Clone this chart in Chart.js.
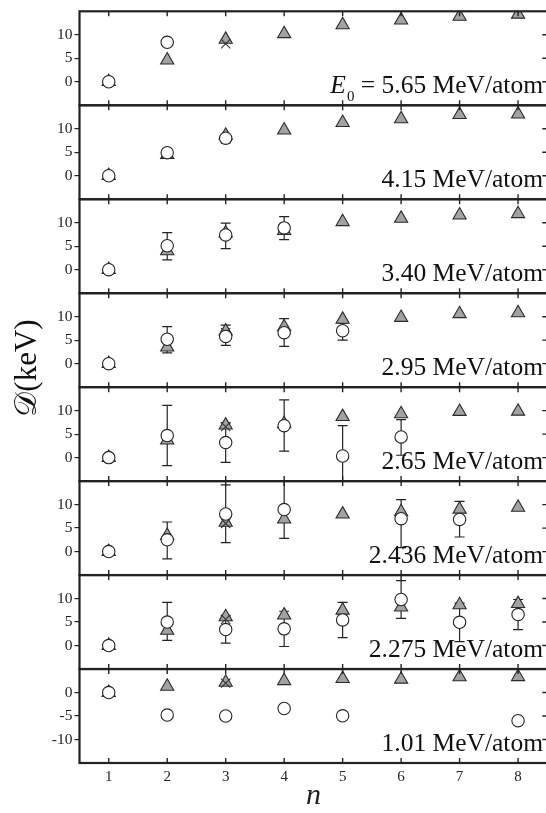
<!DOCTYPE html>
<html lang="en">
<head>
<meta charset="UTF-8">
<title>D(keV) vs n</title>
<script src="https://cdn.jsdelivr.net/npm/chart.js"></script>
<style>
  html, body { margin: 0; padding: 0; background: #fff; overflow: hidden; }
  #wrap { width: 546px; height: 813px; overflow: hidden; }
  canvas { display: block; }
</style>
</head>
<body>
<div id="wrap"><canvas id="panels" width="556" height="813"></canvas></div>
<script>
// one panel per beam energy, top to bottom
const nValues = [1, 2, 3, 4, 5, 6, 7, 8];
const energies = ['5.65', '4.15', '3.40', '2.95', '2.65', '2.436', '2.275', '1.01'];
const yTicksUpper = [0, 5, 10];
const yTicksLower = [-10, -5, 0];

// grey triangles
const triangleVals = [
  [0, 4.6, 9.0, 10.2, 12.1, 13.1, 13.9, 14.35],
  [0, 4.5, 8.6, 9.7, 11.3, 12.1, 13.0, 13.1],
  [0, 4.0, 7.8, 8.3, 10.2, 10.9, 11.6, 11.9],
  [0, 3.5, 6.9, 7.8, 9.4, 9.8, 10.6, 10.8],
  [0, 3.7, 6.9, 7.2, 8.7, 9.3, 9.8, 9.85],
  [0, 3.4, 6.2, 6.9, 7.95, 8.45, 9.0, 9.4],
  [0, 3.2, 6.1, 6.45, 7.5, 8.15, 8.65, 8.9],
  [0, 1.3, 2.15, 2.5, 2.95, 2.8, 3.3, 3.35]
];
// open circles (measured)
const circleVals = [
  [0, 8.4, null, null, null, null, null, null],
  [0, 4.9, 8.0, null, null, null, null, null],
  [0, 5.1, 7.4, 8.9, null, null, null, null],
  [0, 5.2, 5.8, 6.6, 7.0, null, null, null],
  [0, 4.7, 3.2, 6.8, 0.35, 4.4, null, null],
  [0, 2.5, 8.0, 8.95, null, 7.0, 6.85, null],
  [0, 5.0, 3.4, 3.55, 5.45, 9.8, 4.95, 6.6],
  [0, -4.8, -5.0, -3.4, -4.95, null, null, -6.0]
];
// crosses, only at n = 3
const crossVals = [8.1, 7.8, 7.4, 6.6, 6.6, 6.0, 5.6, 2.0];
// error bar ends for the circles
const errLow = [
  [null, null, null, null, null, null, null, null],
  [null, null, null, null, null, null, null, null],
  [null, 2.1, 4.5, 6.4, null, null, null, null],
  [null, 2.3, 3.9, 3.7, 5.0, null, null, null],
  [null, -1.7, -1.0, 1.4, -6.1, 0.5, null, null],
  [null, -1.55, 1.9, 2.8, null, 0.85, 3.1, null],
  [null, 1.1, 0.5, -0.2, 1.7, 5.8, 0.85, 3.4],
  [null, null, null, null, null, null, null, null]
];
const errHigh = [
  [null, null, null, null, null, null, null, null],
  [null, null, null, null, null, null, null, null],
  [null, 7.9, 9.9, 11.3, null, null, null, null],
  [null, 7.9, 8.2, 9.6, 8.6, null, null, null],
  [null, 11.1, 7.4, 12.3, 6.8, 8.1, null, null],
  [null, 6.3, 14.2, 15.1, null, 11.05, 10.7, null],
  [null, 9.2, 6.3, 7.3, 9.2, 13.8, 9.05, 9.8],
  [null, null, null, null, null, null, null, null]
];

const serif = '"Liberation Serif", "Times New Roman", serif';
const ink = '#222';

function points(vals) {
  return nValues.map((n, i) => ({ x: n, y: vals[i] })).filter(p => p.y !== null);
}

const datasets = [];
const scales = {
  x: {
    type: 'linear',
    position: 'bottom',
    min: 0.5,
    max: 8.5,
    afterBuildTicks: s => { s.ticks = nValues.map(v => ({ value: v })); },
    afterFit: s => { s.height = 50; },
    grid: { display: false, drawTicks: false },
    border: { display: false },
    ticks: { font: { family: serif, size: 15 }, color: ink, padding: 5 },
    title: { display: true, text: 'n', font: { family: serif, size: 30, style: 'italic', lineHeight: 1.1 }, color: ink, padding: { top: 0, bottom: 0 } }
  }
};

energies.forEach((e, p) => {
  const id = 'y' + p;
  const last = p === energies.length - 1;
  scales[id] = {
    type: 'linear',
    position: 'left',
    stack: 'panels',
    stackWeight: 1,
    weight: energies.length - p,
    min: last ? -15 : -5,
    max: last ? 5 : 15,
    afterBuildTicks: s => { s.ticks = (last ? yTicksLower : yTicksUpper).map(v => ({ value: v })); },
    afterFit: s => { s.width = 79.5; },
    grid: { drawOnChartArea: false, tickLength: 5, color: ink, lineWidth: 1.2 },
    border: { display: false },
    ticks: { font: { family: serif, size: 15.5 }, color: ink, padding: 2 }
  };
  datasets.push({
    label: 'circles ' + e, yAxisID: id, order: 1,
    data: points(circleVals[p]),
    pointStyle: 'circle', pointRadius: 6.2, pointBackgroundColor: '#fff',
    pointBorderColor: ink, pointBorderWidth: 1.1
  });
  datasets.push({
    label: 'crosses ' + e, yAxisID: id, order: 2,
    data: [{ x: 3, y: crossVals[p] }],
    pointStyle: 'crossRot', pointRadius: 6.5, pointBorderColor: '#333', pointBorderWidth: 1.1
  });
  datasets.push({
    label: 'triangles ' + e, yAxisID: id, order: 3,
    data: points(triangleVals[p]),
    pointStyle: 'triangle', pointRadius: 7.6, pointBackgroundColor: '#a2a2a2',
    pointBorderColor: '#2a2a2a', pointBorderWidth: 1.1
  });
});

const panelPlugin = {
  id: 'panelFrames',
  beforeDatasetsDraw(chart) {
    const ctx = chart.ctx, xs = chart.scales.x, area = chart.chartArea;
    ctx.save();
    ctx.strokeStyle = ink;
    ctx.lineWidth = 1.2;
    energies.forEach((e, p) => {
      const ys = chart.scales['y' + p];
      ctx.save();
      ctx.beginPath();
      ctx.rect(area.left, ys.top, area.right - area.left, ys.bottom - ys.top);
      ctx.clip();
      nValues.forEach((n, i) => {
        const lo = errLow[p][i], hi = errHigh[p][i];
        if (lo === null) return;
        const px = xs.getPixelForValue(n);
        const y1 = ys.getPixelForValue(lo), y2 = ys.getPixelForValue(hi);
        ctx.beginPath();
        ctx.moveTo(px, y1); ctx.lineTo(px, y2);
        ctx.moveTo(px - 5, y1); ctx.lineTo(px + 5, y1);
        ctx.moveTo(px - 5, y2); ctx.lineTo(px + 5, y2);
        ctx.stroke();
      });
      ctx.restore();
    });
    ctx.restore();
  },
  afterDatasetsDraw(chart) {
    const ctx = chart.ctx, xs = chart.scales.x, area = chart.chartArea;
    ctx.save();
    ctx.strokeStyle = ink;
    energies.forEach((e, p) => {
      const ys = chart.scales['y' + p];
      const last = p === energies.length - 1;
      // x ticks pointing into the panel from top and bottom
      ctx.lineWidth = 1.4;
      ctx.beginPath();
      nValues.forEach(n => {
        const px = xs.getPixelForValue(n);
        ctx.moveTo(px, ys.top); ctx.lineTo(px, ys.top + 5);
        ctx.moveTo(px, ys.bottom); ctx.lineTo(px, ys.bottom - 5);
      });
      // y ticks on the right edge
      (last ? yTicksLower : yTicksUpper).forEach(v => {
        const py = ys.getPixelForValue(v);
        ctx.moveTo(area.right, py); ctx.lineTo(area.right - 5, py);
      });
      ctx.stroke();
      ctx.lineWidth = 2.2;
      ctx.strokeRect(area.left, ys.top, area.right - area.left, ys.bottom - ys.top);
    });
    ctx.restore();
  },
  afterDraw(chart) {
    const ctx = chart.ctx;
    ctx.save();
    ctx.fillStyle = '#111';
    ctx.textBaseline = 'alphabetic';
    ctx.textAlign = 'left';
    energies.forEach((e, p) => {
      const ys = chart.scales['y' + p];
      const base = ys.bottom - 12;
      const rest = (p === 0 ? ' = ' : '') + e + ' MeV/atom';
      ctx.font = '25.5px ' + serif;
      const x0 = 543 - ctx.measureText(rest).width;
      ctx.fillText(rest, x0, base);
      if (p === 0) {
        ctx.font = '15px ' + serif;
        const w0 = ctx.measureText('0').width;
        ctx.fillText('0', x0 - w0, base + 8);
        ctx.font = 'italic 25.5px ' + serif;
        ctx.fillText('E', x0 - w0 - ctx.measureText('E').width - 1, base);
      }
    });
    // shared y title
    ctx.translate(28, 368);
    ctx.rotate(-Math.PI / 2);
    ctx.textAlign = 'center';
    ctx.textBaseline = 'middle';
    ctx.font = '31px ' + serif;
    ctx.fillText('\u{1D49F}(keV)', 0, 0);
    ctx.restore();
  }
};

new Chart(document.getElementById('panels'), {
  type: 'scatter',
  data: { datasets: datasets },
  options: {
    responsive: false,
    animation: false,
    layout: { padding: { top: 9, right: 8, left: 0, bottom: 0 } },
    plugins: { legend: { display: false }, tooltip: { enabled: false } },
    scales: scales
  },
  plugins: [panelPlugin]
});
</script>
</body>
</html>
